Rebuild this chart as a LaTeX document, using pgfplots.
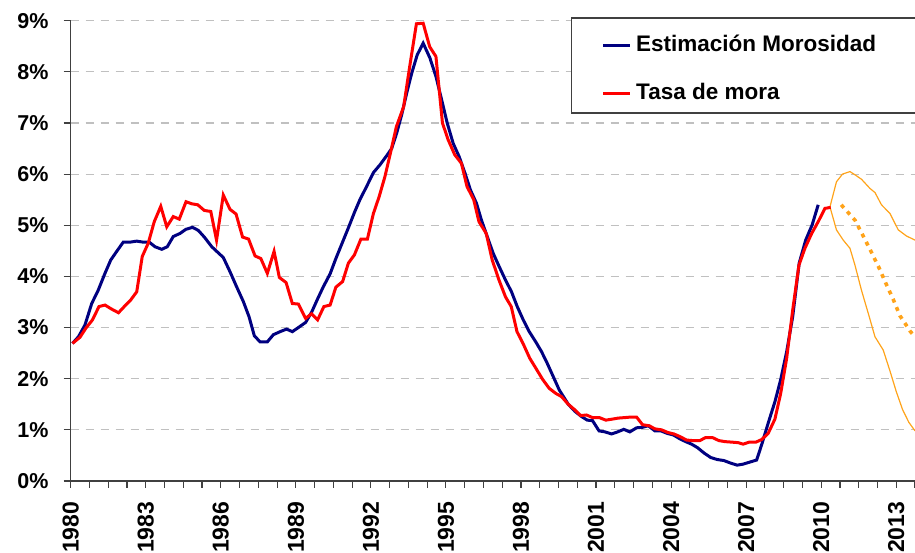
\documentclass[border=0pt]{standalone}
\usepackage{fontspec}
\setmainfont{Liberation Sans}
\usepackage{pgfplots}
\pgfplotsset{compat=1.18}

\definecolor{moroBlue}{HTML}{000080}
\definecolor{moroRed}{HTML}{FF0000}
\definecolor{moroOrange}{HTML}{FFA31A}
\definecolor{moroGrid}{HTML}{C0C0C0}
\definecolor{moroAxis}{HTML}{404040}

\begin{document}
\begin{tikzpicture}
\begin{axis}[
	scale only axis,
	width=844.3pt, height=460.3pt,
	xmin=1980, xmax=2013.75,
	ymin=0, ymax=9,
	clip=false,
	axis x line*=bottom, axis y line*=left,
	axis line style={draw=moroAxis, line width=1.3pt, -},
	xtick={1980,1983,...,2013},
	minor xtick={1980,1980.75,...,2013.8},
	ytick={0,1,...,9},
	xtick pos=bottom, ytick pos=left,
	tick align=outside,
	major tick length=7pt, minor tick length=7pt,
	every tick/.style={draw=moroAxis, line width=1.1pt},
	ymajorgrids,
	major grid style={draw=moroGrid, line width=1.2pt, dash pattern=on 8pt off 7pt},
	/pgf/number format/assume math mode=true,
	/pgf/number format/1000 sep={},
	xticklabel style={yshift=-13.5pt, rotate=90, anchor=east, inner sep=0pt,
		font=\fontsize{23}{23}\selectfont\bfseries},
	yticklabel style={anchor=east, inner sep=0pt, xshift=-15pt,
		font=\fontsize{21.5}{21.5}\selectfont\bfseries},
	yticklabel={\pgfmathprintnumber{\tick}\%},
	legend style={draw=none, fill=none, at={(0.6295,0.9674)}, anchor=north west,
		inner sep=0pt, outer sep=0pt, row sep=27.9pt,
		font=\fontsize{22.5}{22.5}\selectfont\bfseries,
		nodes={inner sep=0pt, text height=16pt, text depth=4pt},
		/tikz/every odd column/.append style={column sep=4.5pt}},
	legend cell align=left,
	legend image code/.code={\draw[#1, line width=2.5pt] (0pt,0pt) -- (27pt,0pt);},
]

% legend frame, open to the right like the source image
\draw[draw=moroAxis, line width=1.2pt, fill=white]
	(rel axis cs:1.1,0.7995) -- (rel axis cs:0.5934,0.7995)
	-- (rel axis cs:0.5934,1.0059) -- (rel axis cs:1.1,1.0059);

% forecast bands
\addplot[forget plot, color=moroOrange, line width=1.2pt] coordinates {
(2010.35,5.36) (2010.61,5.85) (2010.85,6.00) (2011.15,6.05) (2011.37,5.98)
(2011.61,5.90) (2011.95,5.72) (2012.15,5.64) (2012.41,5.40) (2012.75,5.23)
(2013.08,4.91) (2013.41,4.79) (2013.75,4.71)};
\addplot[forget plot, color=moroOrange, line width=1.2pt] coordinates {
(2010.35,5.36) (2010.61,4.91) (2010.88,4.71) (2011.15,4.55) (2011.35,4.22)
(2011.61,3.73) (2011.88,3.28) (2012.15,2.82) (2012.48,2.56) (2012.75,2.15)
(2013.00,1.75) (2013.25,1.40) (2013.50,1.15) (2013.75,0.98)};
\addplot[forget plot, color=moroOrange, line width=3.6pt, dash pattern=on 4pt off 5pt] coordinates {
(2010.80,5.40) (2011.35,5.10) (2011.68,4.79) (2012.01,4.47) (2012.32,4.16)
(2012.58,3.87) (2012.88,3.55) (2013.15,3.23) (2013.57,2.92) (2013.75,2.82)};

\addplot[color=moroBlue, line width=3pt] coordinates {
(1980.07,2.69) (1980.31,2.82) (1980.57,3.05) (1980.84,3.47) (1981.10,3.73)
(1981.37,4.06) (1981.60,4.32) (1981.84,4.49) (1982.10,4.67) (1982.37,4.67)
(1982.64,4.69) (1982.90,4.67) (1983.14,4.67) (1983.37,4.58) (1983.64,4.53)
(1983.86,4.58) (1984.10,4.78) (1984.37,4.84) (1984.60,4.92) (1984.87,4.96)
(1985.10,4.90) (1985.34,4.77) (1985.64,4.58) (1985.88,4.47) (1986.10,4.37)
(1986.37,4.09) (1986.63,3.80) (1986.90,3.51) (1987.13,3.21) (1987.34,2.84)
(1987.57,2.72) (1987.86,2.72) (1988.10,2.86) (1988.37,2.92) (1988.63,2.97)
(1988.86,2.92) (1989.10,3.00) (1989.39,3.10) (1989.63,3.30) (1989.86,3.55)
(1990.10,3.80) (1990.37,4.05) (1990.60,4.35) (1990.85,4.65) (1991.10,4.95)
(1991.35,5.26) (1991.56,5.50) (1991.83,5.76) (1992.10,6.03) (1992.36,6.18)
(1992.63,6.36) (1992.83,6.50) (1993.03,6.80) (1993.23,7.16) (1993.43,7.58)
(1993.63,7.97) (1993.85,8.33) (1994.09,8.56) (1994.36,8.27) (1994.60,7.91)
(1994.83,7.45) (1995.05,7.00) (1995.29,6.60) (1995.53,6.34) (1995.76,6.02)
(1995.98,5.69) (1996.22,5.43) (1996.42,5.10) (1996.65,4.78) (1996.89,4.45)
(1997.13,4.19) (1997.38,3.93) (1997.62,3.70) (1997.85,3.41) (1998.09,3.15)
(1998.33,2.92) (1998.59,2.72) (1998.82,2.53) (1999.05,2.30) (1999.29,2.04)
(1999.53,1.78) (1999.89,1.50) (2000.16,1.36) (2000.42,1.26) (2000.65,1.19)
(2000.86,1.18) (2001.12,0.98) (2001.36,0.96) (2001.62,0.92) (2001.86,0.96)
(2002.11,1.01) (2002.35,0.96) (2002.62,1.04) (2002.86,1.05) (2003.09,1.08)
(2003.35,0.98) (2003.59,0.98) (2003.85,0.93) (2004.09,0.90) (2004.33,0.83)
(2004.58,0.77) (2004.82,0.72) (2005.06,0.65) (2005.31,0.55) (2005.58,0.46)
(2005.84,0.42) (2006.11,0.40) (2006.38,0.35) (2006.64,0.31) (2006.88,0.33)
(2007.15,0.37) (2007.42,0.41) (2007.64,0.74) (2007.88,1.13) (2008.15,1.55)
(2008.38,1.98) (2008.62,2.53) (2008.86,3.21) (2009.12,4.26) (2009.38,4.71)
(2009.64,5.01) (2009.88,5.40)};
\addlegendentry{Estimación Morosidad}

\addplot[color=moroRed, line width=3pt] coordinates {
(1980.07,2.69) (1980.37,2.81) (1980.61,2.99) (1980.87,3.15) (1981.13,3.41)
(1981.37,3.44) (1981.64,3.36) (1981.91,3.29) (1982.14,3.41) (1982.40,3.54)
(1982.64,3.70) (1982.86,4.39) (1983.10,4.65) (1983.34,5.07) (1983.60,5.37)
(1983.84,4.97) (1984.10,5.17) (1984.34,5.12) (1984.61,5.46) (1984.84,5.42)
(1985.08,5.40) (1985.34,5.29) (1985.60,5.27) (1985.83,4.71) (1986.10,5.59)
(1986.37,5.31) (1986.61,5.22) (1986.87,4.77) (1987.11,4.73) (1987.37,4.40)
(1987.60,4.35) (1987.86,4.06) (1988.13,4.49) (1988.34,3.98) (1988.61,3.88)
(1988.86,3.47) (1989.10,3.46) (1989.39,3.18) (1989.63,3.27) (1989.87,3.15)
(1990.12,3.41) (1990.37,3.44) (1990.60,3.79) (1990.87,3.90) (1991.10,4.26)
(1991.34,4.42) (1991.60,4.73) (1991.86,4.73) (1992.10,5.23) (1992.33,5.56)
(1992.56,5.95) (1992.78,6.41) (1993.02,6.93) (1993.31,7.32) (1993.55,8.10)
(1993.82,8.94) (1994.09,8.95) (1994.35,8.49) (1994.60,8.30) (1994.86,7.00)
(1995.09,6.67) (1995.35,6.38) (1995.62,6.21) (1995.84,5.76) (1996.11,5.50)
(1996.32,5.07) (1996.61,4.84) (1996.85,4.32) (1997.12,3.93) (1997.38,3.60)
(1997.61,3.41) (1997.84,2.92) (1998.08,2.69) (1998.35,2.40) (1998.60,2.20)
(1998.86,1.99) (1999.13,1.81) (1999.40,1.71) (1999.62,1.65) (1999.89,1.50)
(2000.13,1.40) (2000.38,1.28) (2000.62,1.29) (2000.86,1.24) (2001.13,1.24)
(2001.39,1.19) (2001.65,1.21) (2001.89,1.23) (2002.15,1.24) (2002.39,1.25)
(2002.62,1.25) (2002.86,1.10) (2003.13,1.08) (2003.35,1.02) (2003.62,1.00)
(2003.86,0.95) (2004.11,0.92) (2004.35,0.87) (2004.62,0.80) (2004.88,0.79)
(2005.15,0.79) (2005.38,0.85) (2005.65,0.85) (2005.91,0.79) (2006.15,0.77)
(2006.42,0.76) (2006.68,0.75) (2006.88,0.72) (2007.12,0.76) (2007.39,0.76)
(2007.62,0.81) (2007.88,0.93) (2008.15,1.21) (2008.38,1.71) (2008.62,2.40)
(2008.86,3.34) (2009.11,4.22) (2009.35,4.55) (2009.62,4.84) (2009.88,5.07)
(2010.15,5.33) (2010.38,5.35)};
\addlegendentry{Tasa de mora}

\end{axis}
\pgfresetboundingbox
\path[use as bounding box] (-70.7pt,-72pt) rectangle (844.3pt,481pt);
\end{tikzpicture}
\end{document}
